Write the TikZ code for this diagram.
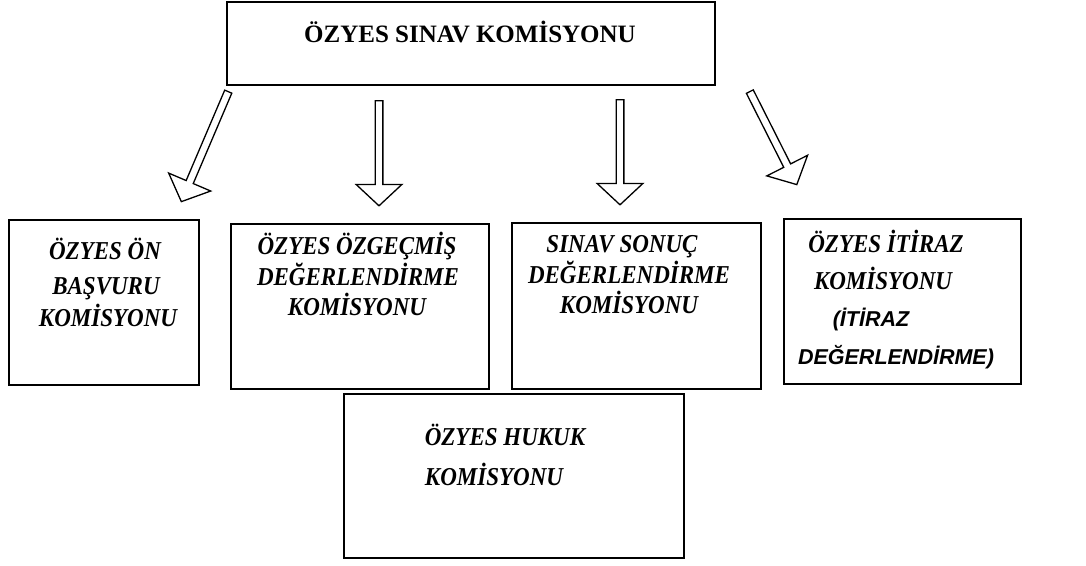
\documentclass[tikz,border=0pt]{standalone}
\usepackage{fontspec}
\setmainfont{Liberation Serif}
\newfontfamily\arialf{Liberation Sans}
\usetikzlibrary{shapes.arrows}
\newcommand{\tall}[1]{\scalebox{1}[1.12]{#1}}
\tikzset{
  box/.style={draw, line width=1.8pt, inner sep=0pt, anchor=north west},
  lbl/.style={font=\fontsize{23}{27}\selectfont\bfseries\itshape, inner sep=0pt, anchor=base},
  lblsans/.style={font=\arialf\fontsize{21.5}{24}\selectfont\bfseries\itshape, inner sep=0pt, anchor=base},
  toplbl/.style={font=\fontsize{25}{30}\selectfont\bfseries, inner sep=0pt, anchor=base},
  blockarrow/.style={single arrow, draw, line width=1.3pt, inner sep=3.2pt,
    single arrow head extend=19pt, single arrow head indent=0pt, single arrow tip angle=94}
}
\begin{document}
\begin{tikzpicture}[x=1pt,y=-1pt]
\useasboundingbox (0,0) rectangle (1086,565);
% top box
\node[box, minimum width=488pt, minimum height=83pt] (top) at (226,1) {};
\node[toplbl] (toptext) at (470,42) {ÖZYES SINAV KOMİSYONU};
% arrows
\node[blockarrow, minimum height=119.6pt, rotate=-113.1] (a1) at (205.5,145) {};
\node[blockarrow, minimum height=105pt, rotate=-90] (a2) at (379,151.5) {};
\node[blockarrow, minimum height=105pt, rotate=-90] (a3) at (620,150.5) {};
\node[blockarrow, minimum height=104.2pt, rotate=-63.2] (a4) at (772.5,136.5) {};
% box 1
\node[box, minimum width=190pt, minimum height=165pt] (b1) at (8,219) {};
\node[lbl] (b1l1) at (105,259) {\tall{ÖZYES ÖN}};
\node[lbl] (b1l2) at (106,294) {\tall{BAŞVURU}};
\node[lbl] (b1l3) at (108,326) {\tall{KOMİSYONU}};
% box 2
\node[box, minimum width=258pt, minimum height=165pt] (b2) at (230,223) {};
\node[lbl] (b2l1) at (357,254) {\tall{ÖZYES ÖZGEÇMİŞ}};
\node[lbl] (b2l2) at (358,285) {\tall{DEĞERLENDİRME}};
\node[lbl] (b2l3) at (357,315) {\tall{KOMİSYONU}};
% box 3
\node[box, minimum width=249pt, minimum height=166pt] (b3) at (511,222) {};
\node[lbl] (b3l1) at (622,252) {\tall{SINAV SONUÇ}};
\node[lbl] (b3l2) at (629,283) {\tall{DEĞERLENDİRME}};
\node[lbl] (b3l3) at (629,313) {\tall{KOMİSYONU}};
% box 4
\node[box, minimum width=237pt, minimum height=165pt] (b4) at (783,218) {};
\node[lbl] (b4l1) at (886,252) {\tall{ÖZYES İTİRAZ}};
\node[lbl] (b4l2) at (883,289) {\tall{KOMİSYONU}};
\node[lblsans] (b4l3) at (871,326) {(İTİRAZ};
\node[lblsans] (b4l4) at (896,364) {DEĞERLENDİRME)};
% box 5
\node[box, minimum width=340pt, minimum height=164pt] (b5) at (343,393) {};
\node[lbl] (b5l1) at (505,445) {\tall{ÖZYES HUKUK}};
\node[lbl] (b5l2) at (494,485) {\tall{KOMİSYONU}};
\end{tikzpicture}
\end{document}
